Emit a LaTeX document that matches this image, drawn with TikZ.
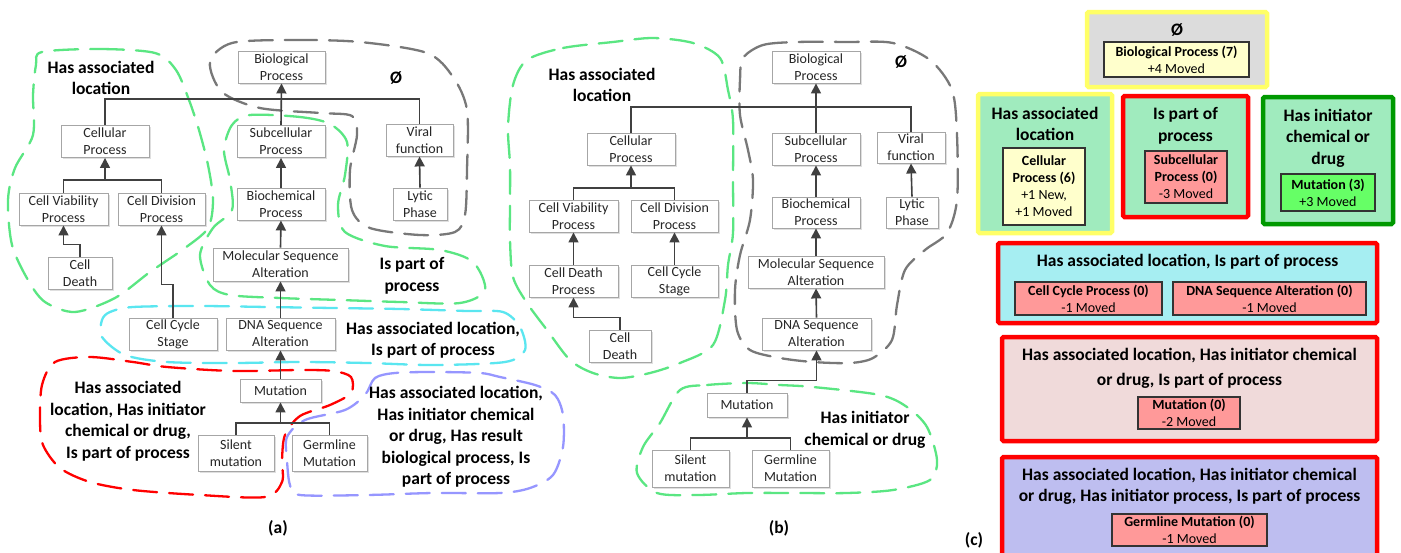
\documentclass[tikz,border=0pt]{standalone}
\usepackage{fontspec}
\setmainfont{Carlito}
\usetikzlibrary{arrows.meta,shadows}
\definecolor{boxgray}{RGB}{166,166,166}
\definecolor{linegray}{RGB}{64,64,64}
\definecolor{rgreen}{RGB}{90,230,130}
\definecolor{rgray}{RGB}{120,120,120}
\definecolor{rcyan}{RGB}{90,230,240}
\definecolor{rred}{RGB}{255,0,0}
\definecolor{rpurple}{RGB}{150,150,255}
\definecolor{cyel}{RGB}{255,255,102}
\definecolor{cgrayfill}{RGB}{220,220,220}
\definecolor{cmint}{RGB}{160,235,190}
\definecolor{ccyan}{RGB}{166,238,242}
\definecolor{cpink}{RGB}{240,218,218}
\definecolor{clav}{RGB}{190,190,240}
\definecolor{cinred}{RGB}{255,153,153}
\definecolor{cingreen}{RGB}{102,255,102}
\definecolor{cinyel}{RGB}{255,255,204}
\definecolor{cdgreen}{RGB}{0,153,0}
\newcommand\bxnode[6]{\node[bx, minimum width=#4pt, minimum height=#5pt] (#1) at (#2,#3) {#6};}
\begin{document}
\begin{tikzpicture}[x=1pt,y=-1pt,
  bx/.style={draw=boxgray, fill=white, line width=0.9pt, align=center, inner sep=0pt,
    font=\fontsize{14}{17}\selectfont, text=black!85,
    drop shadow={shadow xshift=1.5pt, shadow yshift=-1.5pt, opacity=0.25, fill=gray}},
  arr/.style={draw=linegray, line width=1.6pt, -{Triangle[width=10pt,length=10pt]}},
  ln/.style={draw=linegray, line width=1.6pt},
  rg/.style={line width=2.3pt, dash pattern=on 24pt off 12pt, line cap=round},
  lbl/.style={font=\bfseries\fontsize{17.5}{21.5}\selectfont, align=center, inner sep=0pt},
  cbox/.style={line width=4.5pt, rounded corners=1.5pt, inner sep=0pt},
  cin/.style={draw=black!80, line width=1.3pt, align=center, inner sep=0pt,
    font=\fontsize{14}{17}\selectfont},
  ctitle/.style={font=\bfseries\fontsize{17.5}{21.5}\selectfont, align=center, inner sep=0pt}]
\useasboundingbox (0,0) rectangle (1401,552);
\clip (0,0) rectangle (1401,552);
\fill[white] (0,0) rectangle (1401,552);

% ---------------- regions (a)
\draw[rg, draw=rgreen] plot[smooth cycle] coordinates {(42,52) (100,49) (155,53) (176,70) (189,100) (199,130) (208,165) (213,200) (208,228) (185,248) (150,272) (115,298) (75,312) (45,302) (28,280) (12,245) (8,200) (15,168) (33,135) (33,95) (36,65)};
\draw[rg, draw=rgreen] plot[smooth cycle] coordinates {(250,115) (300,117) (330,124) (347,142) (345,175) (338,205) (345,232) (385,246) (440,250) (473,262) (485,290) (460,303) (400,302) (340,300) (280,298) (230,295) (210,285) (200,255) (213,228) (232,210) (230,180) (224,150) (232,125)};
\draw[rg, draw=rgray] plot[smooth cycle] coordinates {(232,43) (293,40) (360,42) (427,53) (453,77) (467,110) (467,170) (465,215) (455,232) (420,235) (370,228) (352,210) (350,170) (357,135) (352,116) (320,113) (260,108) (222,92) (210,62)};
\draw[rg, draw=rcyan] plot[smooth cycle] coordinates {(110,312) (133,307) (200,306) (267,307) (333,308) (400,309) (467,311) (503,312) (520,327) (525,350) (505,362) (433,365) (367,363) (300,362) (233,363) (167,362) (125,355) (102,337) (102,320)};
\draw[rg, draw=rred] plot[smooth cycle] coordinates {(55,362) (90,357) (133,362) (167,367) (233,371) (300,370) (333,371) (351,377) (351,393) (330,405) (300,416) (285,435) (282,460) (282,482) (265,497) (200,495) (133,490) (90,482) (60,468) (43,445) (40,420) (42,385)};
\draw[rg, draw=rpurple] plot[smooth cycle] coordinates {(365,395) (375,378) (395,373) (433,372) (480,373) (500,377) (535,385) (555,395) (563,415) (563,447) (553,475) (530,488) (500,493) (433,493) (367,495) (300,495) (290,485) (287,460) (287,437) (305,420) (345,410)};

% ---------------- regions (b)
\draw[rg, draw=rgreen] plot[smooth cycle] coordinates {(527,60) (563,48) (613,42) (653,38) (693,43) (720,58) (728,90) (733,120) (733,180) (733,233) (728,265) (725,300) (713,345) (680,363) (650,373) (620,378) (593,373) (570,360) (547,330) (527,303) (513,277) (510,240) (510,205) (510,165) (508,127) (513,85)};
\draw[rg, draw=rgray] plot[smooth cycle] coordinates {(743,58) (763,45) (797,42) (847,42) (893,43) (930,60) (952,90) (957,135) (957,200) (947,233) (925,250) (905,270) (897,305) (892,340) (873,358) (850,363) (813,362) (780,358) (750,350) (737,330) (735,290) (740,255) (750,220) (753,180) (748,150) (740,115) (740,80)};
\draw[rg, draw=rgreen] plot[smooth cycle] coordinates {(680,390) (707,385) (747,383) (780,385) (813,387) (880,395) (907,407) (927,427) (937,460) (930,480) (893,490) (847,493) (797,493) (747,493) (697,495) (657,493) (637,473) (643,447) (660,423)};

% ---------------- nodes (a)
\bxnode{bioA}{281.5}{67}{87}{32}{Biological\\Process}
\bxnode{cellA}{105}{141.5}{88}{32}{Cellular\\Process}
\bxnode{subA}{281}{141.5}{88}{32}{Subcellular\\Process}
\bxnode{virA}{419.5}{140}{67}{32}{Viral\\function}
\bxnode{viaA}{63.5}{209}{89}{32}{Cell Viability\\Process}
\bxnode{divA}{161.5}{209}{87}{32}{Cell Division\\Process}
\bxnode{bchA}{281}{204}{88}{32}{Biochemical\\Process}
\bxnode{lytA}{420}{204}{54}{32}{Lytic\\Phase}
\bxnode{dthA}{80}{273}{64}{32}{Cell\\Death}
\bxnode{molA}{280.5}{264.5}{135}{33}{Molecular Sequence\\Alteration}
\bxnode{cycA}{173}{334}{88}{32}{Cell Cycle\\Stage}
\bxnode{dnaA}{280.5}{334}{109}{32}{DNA Sequence\\Alteration}
\bxnode{mutA}{280.5}{390.5}{81}{23}{Mutation}
\bxnode{silA}{236}{453}{76}{36}{Silent\\mutation}
\bxnode{gerA}{329.5}{453}{75}{36}{Germline\\Mutation}

\coordinate (jTA) at (281,99);
\coordinate (jCA) at (105,180);
\coordinate (jMA) at (280.5,423);
\draw[ln] (cellA.north) |- (jTA) -| (virA.north);
\draw[arr] (subA.north) -- (bioA.south);
\draw[ln] (viaA.north) |- (jCA) -| (divA.north);
\draw[arr] (jCA) -- (cellA.south);
\draw[arr] (dthA.north) -- ++(0,-12) -| (viaA.south);
\draw[arr] (cycA.north) -- ++(0,-33) -| (divA.south);
\draw[arr] (bchA.north) -- (subA.south);
\draw[arr] (lytA.north) -- (virA.south);
\draw[arr] (molA.north) -- (bchA.south);
\draw[arr] (dnaA.north) -- (molA.south);
\draw[arr] (mutA.north) -- (dnaA.south);
\draw[ln] (silA.north) |- (jMA) -| (gerA.north);
\draw[arr] (jMA) -- (mutA.south);

% labels (a)
\node[lbl] (la1) at (101,78) {Has associated\\location};
\node[lbl] (la2) at (396,78) {Ø};
\node[lbl] (la3) at (412,276) {Is part of\\process};
\node[lbl] (la4) at (433,340) {Has associated location,\\Is part of process};
\node[lbl] (la5) at (128,421) {Has associated\\location, Has initiator\\chemical or drug,\\Is part of process};
\node[lbl] (la6) at (456,437) {Has associated location,\\Has initiator chemical\\or drug, Has result\\biological process, Is\\part of process};
\node[lbl] (capA) at (278,528) {(a)};

% ---------------- nodes (b)
\bxnode{bioB}{816}{67}{88}{32}{Biological\\Process}
\bxnode{cellB}{631}{149}{88}{32}{Cellular\\Process}
\bxnode{subB}{816}{149}{88}{32}{Subcellular\\Process}
\bxnode{virB}{911}{147.5}{68}{31}{Viral\\function}
\bxnode{viaB}{573.5}{216}{89}{32}{Cell Viability\\Process}
\bxnode{divB}{674.5}{216}{87}{32}{Cell Division\\Process}
\bxnode{bchB}{816}{212.5}{88}{31}{Biochemical\\Process}
\bxnode{lytB}{912}{212.5}{52}{31}{Lytic\\Phase}
\bxnode{cdpB}{573.5}{281}{89}{32}{Cell Death\\Process}
\bxnode{cycB}{674.5}{281}{87}{32}{Cell Cycle\\Stage}
\bxnode{molB}{816}{272}{136}{32}{Molecular Sequence\\Alteration}
\bxnode{dthB}{620}{346}{62}{32}{Cell\\Death}
\bxnode{dnaB}{816.5}{334}{109}{32}{DNA Sequence\\Alteration}
\bxnode{mutB}{747}{405}{80}{24}{Mutation}
\bxnode{silB}{690.5}{468.5}{77}{37}{Silent\\mutation}
\bxnode{gerB}{790.5}{468.5}{77}{37}{Germline\\Mutation}

\coordinate (jTB) at (816,107);
\coordinate (jCB) at (631,188);
\coordinate (jMB) at (747,438);
\draw[ln] (cellB.north) |- (jTB) -| (virB.north);
\draw[arr] (subB.north) -- (bioB.south);
\draw[ln] (viaB.north) |- (jCB) -| (divB.north);
\draw[arr] (jCB) -- (cellB.south);
\draw[arr] (cdpB.north) -- (viaB.south);
\draw[arr] (cycB.north) -- (divB.south);
\draw[arr] (dthB.north) -- ++(0,-12) -| (cdpB.south);
\draw[arr] (bchB.north) -- (subB.south);
\draw[arr] (lytB.north) -- (virB.south);
\draw[arr] (molB.north) -- (bchB.south);
\draw[arr] (dnaB.north) -- (molB.south);
\draw[arr] (mutB.north) -- ++(0,-12) -| (dnaB.south);
\draw[ln] (silB.north) |- (jMB) -| (gerB.north);
\draw[arr] (jMB) -- (mutB.south);

% labels (b)
\node[lbl] (lb1) at (602,85) {Has associated\\location};
\node[lbl] (lb2) at (901,62) {Ø};
\node[lbl] (lb3) at (865,430) {Has initiator\\chemical or drug};
\node[lbl] (capB) at (779,528) {(b)};

% ---------------- (c)
\node[cbox, draw=cyel, fill=cgrayfill, minimum width=180pt, minimum height=75pt] (c1) at (1177,49.5) {};
\node[ctitle] (c1t) at (1177,30) {Ø};
\node[cin, fill=cinyel, minimum width=145pt, minimum height=35pt] (c1i) at (1176.5,59.5) {\textbf{Biological Process (7)}\\+4 Moved};

\node[cbox, draw=cyel, fill=cmint, minimum width=134pt, minimum height=139pt] (c2) at (1045,163.5) {};
\node[ctitle] (c2t) at (1045,124) {Has associated\\location};
\node[cin, fill=cinyel, minimum width=82pt, minimum height=77pt] (c2i) at (1044,186.5) {\textbf{Cellular}\\\textbf{Process (6)}\\+1 New,\\+1 Moved};

\node[cbox, draw=rred, fill=cmint, minimum width=125pt, minimum height=121pt] (c3) at (1185.5,156.5) {};
\node[ctitle] (c3t) at (1185.5,126) {Is part of\\process};
\node[cin, fill=cinred, minimum width=82pt, minimum height=52pt] (c3i) at (1186,177) {\textbf{Subcellular}\\\textbf{Process (0)}\\-3 Moved};

\node[cbox, draw=cdgreen, fill=cmint, minimum width=130pt, minimum height=127pt] (c4) at (1328,160.5) {};
\node[ctitle] (c4t) at (1328,138) {Has initiator\\chemical or\\drug};
\node[cin, fill=cingreen, minimum width=94pt, minimum height=37pt] (c4i) at (1328,192.5) {\textbf{Mutation (3)}\\+3 Moved};

\node[cbox, draw=rred, fill=ccyan, minimum width=379pt, minimum height=80pt] (c5) at (1187.5,283) {};
\node[ctitle] (c5t) at (1187.5,262) {Has associated location, Is part of process};
\node[cin, fill=cinred, minimum width=147pt, minimum height=33pt] (c5a) at (1088.5,298.5) {\textbf{Cell Cycle Process (0)}\\-1 Moved};
\node[cin, fill=cinred, minimum width=193pt, minimum height=33pt] (c5b) at (1269.5,298.5) {\textbf{DNA Sequence Alteration (0)}\\-1 Moved};

\node[cbox, draw=rred, fill=cpink, minimum width=375pt, minimum height=104pt] (c6) at (1189.5,389) {};
\node[ctitle] (c6t) at (1189.5,368.5) {Has associated location, Has initiator chemical\\[3.5pt]or drug, Is part of process};
\node[cin, fill=cinred, minimum width=102pt, minimum height=32pt] (c6i) at (1189,413) {\textbf{Mutation (0)}\\-2 Moved};

\node[cbox, draw=rred, fill=clav, minimum width=375pt, minimum height=110pt] (c7) at (1189.5,512) {};
\node[ctitle] (c7t) at (1189.5,486.5) {Has associated location, Has initiator chemical\\or drug, Has initiator process, Is part of process};
\node[cin, fill=cinred, minimum width=155pt, minimum height=32pt] (c7i) at (1189.5,530) {\textbf{Germline Mutation (0)}\\-1 Moved};

\node[lbl] (capC) at (974,540) {(c)};
\end{tikzpicture}
\end{document}
